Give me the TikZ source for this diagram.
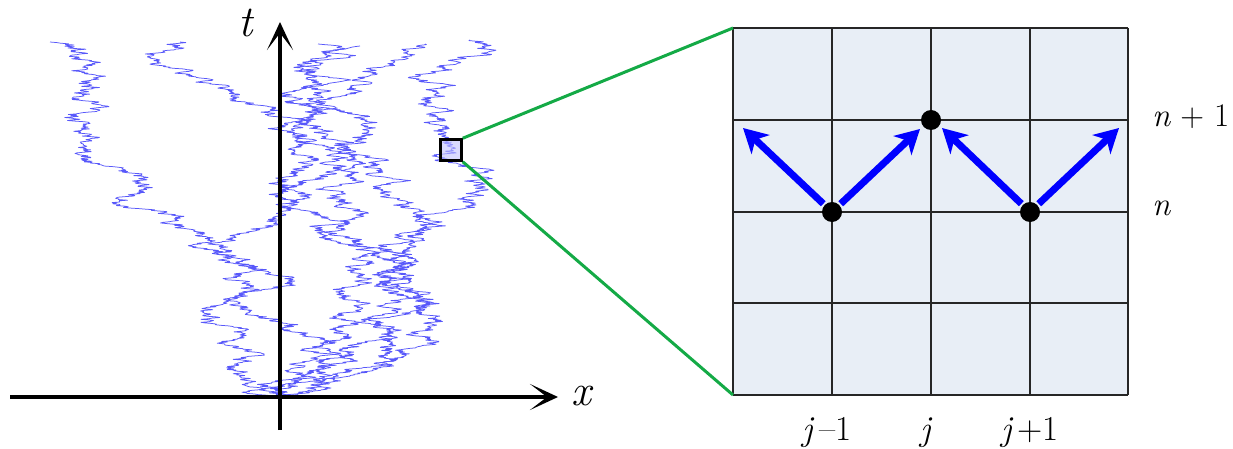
\documentclass[tikz,border=0pt]{standalone}
\usetikzlibrary{arrows.meta}
\definecolor{walkblue}{RGB}{88,88,250}
\definecolor{gridfill}{RGB}{232,238,246}
\definecolor{zoomgreen}{RGB}{20,170,70}
\tikzset{
  walk/.style={walkblue, line width=0.75pt, line join=round},
  axis/.style={line width=4pt, -{Stealth[length=28pt,width=26pt,inset=17pt]}},
  gridline/.style={line width=1.5pt, black!85},
  dot/.style={circle, fill=black, minimum size=20pt, inner sep=0pt, outer sep=2pt},
  hop/.style={blue, line width=7pt, -{Stealth[length=24pt,width=26pt,inset=7pt]}},
  zoomline/.style={zoomgreen, line width=3pt},
  biglabel/.style={inner sep=0pt, font=\fontsize{44}{44}\selectfont},
  midlabel/.style={inner sep=0pt, font=\fontsize{33}{33}\selectfont},
  smalllabel/.style={inner sep=0pt, font=\fontsize{35}{35}\selectfont},
}
% random-walk bridge from (#2,#3) to (#4,#5), seed #1
\newcommand\walkseg[5]{%
  \pgfmathsetseed{#1}%
  \pgfmathtruncatemacro\nn{(#3-#5)/0.6}%
  \gdef\acc{0}\gdef\incs{0}%
  \foreach \i in {1,...,\nn}{%
    \pgfmathsetmacro\stp{9*rand}%
    \pgfmathparse{\acc+\stp}\xdef\acc{\pgfmathresult}%
    \xdef\incs{\incs,\stp}%
  }%
  \pgfmathsetmacro\corr{(#4-#2-\acc)/(\nn+1)}%
  \pgfmathsetmacro\wdy{(#5-#3)/(\nn+1)}%
  \draw[walk] (#2,#3) \foreach \d in \incs { -- ++({\d+\corr},\wdy) };%
}
\begin{document}
\begin{tikzpicture}[x=1pt,y=-1pt]
\useasboundingbox (0,0) rectangle (1233,449);
\coordinate (o) at (280,397);
% random walks
\walkseg{11}{280}{397}{120}{205}
\walkseg{12}{120}{205}{50}{42}
\walkseg{23}{280}{397}{225}{250}
\walkseg{24}{225}{250}{180}{42}
\walkseg{37}{280}{397}{300}{210}
\walkseg{38}{300}{210}{318}{44}
\walkseg{41}{280}{397}{380}{250}
\walkseg{42}{380}{250}{360}{46}
\walkseg{53}{280}{397}{400}{300}
\walkseg{54}{400}{300}{488}{190}
\walkseg{55}{488}{190}{451}{150}
\walkseg{56}{451}{150}{470}{40}
\walkseg{67}{280}{397}{345}{170}
\walkseg{68}{345}{170}{425}{44}
% axes
\coordinate (xl) at (10,397);
\coordinate (xr) at (558,397);
\coordinate (tb) at (280,430);
\coordinate (tt) at (280,22);
\draw[axis] (xl) -- (xr);
\draw[axis] (tb) -- (tt);
\node[biglabel, anchor=base west] (tlab) at (238,37) {\itshape t};
\node[biglabel, anchor=base west] (xlab) at (571,405) {\itshape x};
% zoom square
\node[draw=black, line width=2.5pt, fill=blue!25, fill opacity=0.6, minimum size=21pt, inner sep=0pt] (sq) at (451,150) {};
% grid
\coordinate (gtl) at (733,28);
\coordinate (gbl) at (733,395);
\fill[gridfill] (gtl) rectangle (1128,395);
\foreach \xx in {733,832,931,1030,1128}{
  \draw[gridline] (\xx,28) -- (\xx,395);
}
\foreach \yy in {28,120,212,303,395}{
  \draw[gridline] (733,\yy) -- (1128,\yy);
}
\draw[zoomline] (sq.north east) -- (gtl);
\draw[zoomline] (sq.south east) -- (gbl);
% dots and arrows
\node[dot] (d1) at (832,212) {};
\node[dot] (d2) at (931,120) {};
\node[dot] (d3) at (1030,212) {};
\coordinate (a1) at (743,128);
\coordinate (a2) at (920,129);
\coordinate (a3) at (942,128);
\coordinate (a4) at (1119,128);
\draw[hop] (d1) -- (a1);
\draw[hop] (d1) -- (a2);
\draw[hop] (d3) -- (a3);
\draw[hop] (d3) -- (a4);
% labels
\node[midlabel, anchor=base west] (lnp) at (1152,127) {{\itshape n} + 1};
\node[midlabel, anchor=base west] (ln) at (1152,215) {\itshape n};
\node[smalllabel, anchor=base] (ljm) at (827,440) {{\itshape j}\,--1};
\node[smalllabel, anchor=base] (lj) at (926,440) {\itshape j};
\node[smalllabel, anchor=base] (ljp) at (1030,440) {{\itshape j}\,+1};
\end{tikzpicture}
\end{document}
